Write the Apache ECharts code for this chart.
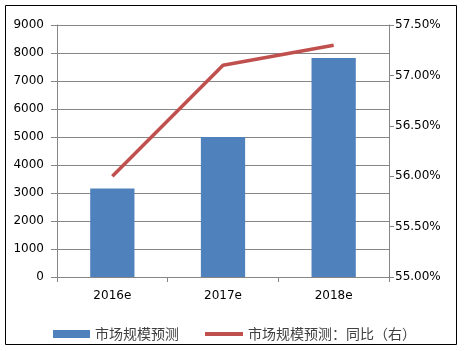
<!DOCTYPE html>
<html><head><meta charset="utf-8">
<script src="https://cdn.jsdelivr.net/npm/echarts@6/dist/echarts.min.js"></script>
<style>html,body{margin:0;padding:0;background:#fff}#c{width:464px;height:351px}</style>
</head><body><div id="c"></div>
<script>
const categories = ['2016e', '2017e', '2018e'];
const marketSize = [3160, 5000, 7820];
const yoyRatio = [56.00, 57.10, 57.30];
const leftTicks = [0, 9000, 1000];
const rightTicks = [55, 57.5, 0.5];
const barName = '市场规模预测';
const lineName = '市场规模预测：同比（右）';

const chart = echarts.init(document.getElementById('c'));
const axisLine = {show: true, lineStyle: {color: '#868686', width: 1}};
const numFont = {color: '#000', fontFamily: 'DejaVu Sans', fontSize: 12};
chart.setOption({
  animation: false,
  graphic: [{type: 'rect', shape: {x: 5.5, y: 5.5, width: 451, height: 339}, style: {fill: 'none', stroke: '#000', lineWidth: 1}}],
  grid: {left: 57, right: 75, top: 25, bottom: 74},
  legend: [
    {data: [{name: barName, icon: 'rect'}], left: 48, top: 322, itemWidth: 37, itemHeight: 8, itemGap: 5,
     textStyle: {fontFamily: 'Noto Sans CJK SC', fontSize: 14, color: '#404040'}},
    {data: [{name: lineName, icon: 'rect'}], left: 200, top: 322, itemWidth: 38, itemHeight: 4, itemGap: 5,
     textStyle: {fontFamily: 'Noto Sans CJK SC', fontSize: 14, color: '#404040'}}
  ],
  xAxis: {type: 'category', data: categories, axisLine: axisLine,
    axisTick: {show: true, length: 5, lineStyle: {color: '#868686'}},
    axisLabel: Object.assign({margin: 13}, numFont)},
  yAxis: [
    {type: 'value', min: leftTicks[0], max: leftTicks[1], interval: leftTicks[2], axisLine: axisLine,
     axisTick: {show: true, length: 6, lineStyle: {color: '#868686'}},
     splitLine: {show: true, lineStyle: {color: '#868686', width: 1}},
     axisLabel: Object.assign({margin: 13, formatter: v => String(v)}, numFont)},
    {type: 'value', min: rightTicks[0], max: rightTicks[1], interval: rightTicks[2], position: 'right', axisLine: axisLine,
     axisTick: {show: true, length: 5, lineStyle: {color: '#868686'}},
     splitLine: {show: false},
     axisLabel: Object.assign({margin: 6, formatter: v => v.toFixed(2) + '%'}, numFont)}
  ],
  series: [
    {name: barName, type: 'bar', data: marketSize, barWidth: '40%', itemStyle: {color: '#4F81BD'}, yAxisIndex: 0},
    {name: lineName, type: 'line', data: yoyRatio, yAxisIndex: 1, symbol: 'none',
     lineStyle: {color: '#C0504D', width: 3.5}, itemStyle: {color: '#C0504D'}}
  ]
});
</script></body></html>
